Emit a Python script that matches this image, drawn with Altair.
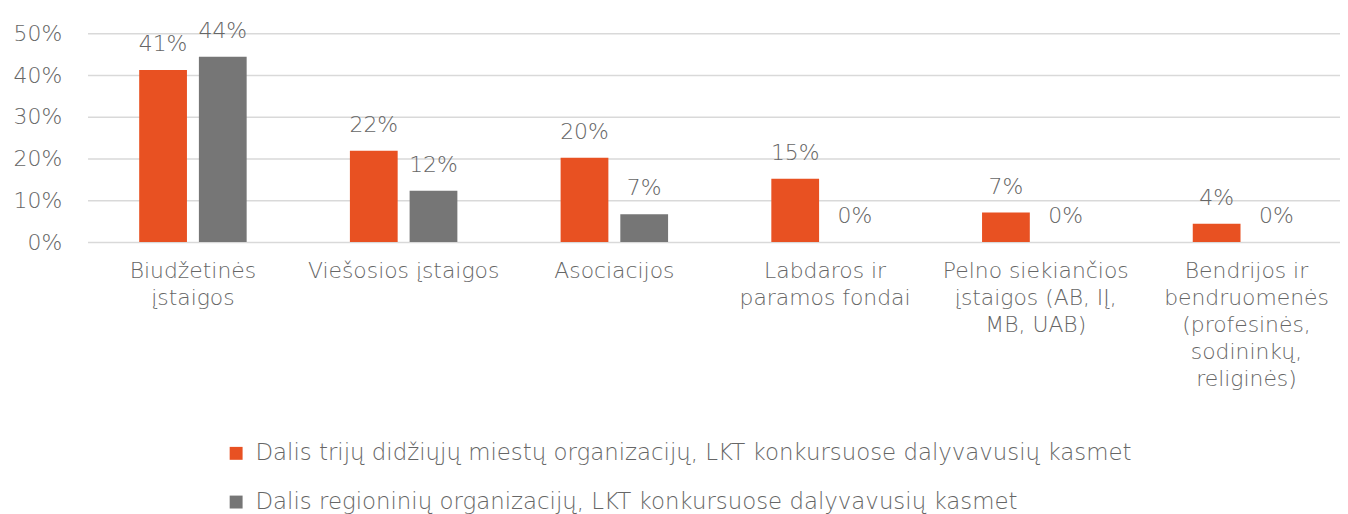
import altair as alt
import pandas as pd

categories = [
    "Biudžetinės\nįstaigos",
    "Viešosios įstaigos",
    "Asociacijos",
    "Labdaros ir\nparamos fondai",
    "Pelno siekiančios\nįstaigos (AB, IĮ,\nMB, UAB)",
    "Bendrijos ir\nbendruomenės\n(profesinės,\nsodininkų,\nreliginės)",
]
series = [
    "Dalis trijų didžiųjų miestų organizacijų, LKT konkursuose dalyvavusių kasmet",
    "Dalis regioninių organizacijų, LKT konkursuose dalyvavusių kasmet",
]
big_cities = [41.2, 21.9, 20.2, 15.2, 7.1, 4.4]
regional = [44.4, 12.3, 6.7, 0.0, 0.0, 0.0]
colors = ["#E85122", "#767676"]

rows = []
for i, c in enumerate(categories):
    rows.append({"category": c, "series": series[0], "value": big_cities[i] / 100})
    rows.append({"category": c, "series": series[1], "value": regional[i] / 100})
df = pd.DataFrame(rows)

FONT = "DejaVu Sans"
TXT = "#666666"
FS = 22
FS_LEGEND = 23
FW = 300

x = alt.X(
    "category:N",
    sort=categories,
    title=None,
    scale=alt.Scale(paddingInner=0.49, paddingOuter=0.217, align=0.565),
    axis=alt.Axis(
        labelAngle=0,
        labelExpr="split(datum.label, '\\n')",
        labelLimit=0,
        labelPadding=19,
        labelLineHeight=27,
        ticks=False,
        domain=False,
        labelFontSize=FS,
    ),
)
xo = alt.XOffset("series:N", sort=series, scale=alt.Scale(paddingInner=0.2, paddingOuter=0))
y = alt.Y(
    "value:Q",
    title=None,
    scale=alt.Scale(domain=[0, 0.5], nice=False),
    axis=alt.Axis(
        values=[0, 0.1, 0.2, 0.3, 0.4, 0.5],
        format=".0%",
        domain=False,
        ticks=False,
        tickSize=0,
        labelPadding=26,
        labelFontSize=FS,
        gridColor="#D9D9D9",
        gridWidth=1.5,
    ),
)

base = alt.Chart(df)
bars = base.mark_bar().encode(
    x=x,
    xOffset=xo,
    y=y,
    color=alt.Color(
        "series:N",
        sort=series,
        scale=alt.Scale(domain=series, range=colors),
        legend=alt.Legend(
            title=None,
            orient="none",
            legendX=138,
            legendY=411,
            direction="vertical",
            symbolType="square",
            symbolSize=169,
            symbolStrokeWidth=0,
            labelFontSize=FS_LEGEND,
            labelOffset=8,
            rowPadding=25,
            labelLimit=0,
            padding=0,
        ),
    ),
)
labels = base.mark_text(
    dy=-19, baseline="alphabetic", fontSize=FS, color=TXT, font=FONT, fontWeight=FW
).encode(
    x=x,
    xOffset=xo,
    y=y,
    text=alt.Text("value:Q", format=".0%"),
)

chart = (
    alt.layer(bars, labels)
    .properties(
        width=1260,
        height=210,
        autosize=alt.AutoSizeParams(type="none"),
        padding={"left": 80, "top": 24, "right": 0, "bottom": 272},
    )
    .configure_view(stroke=None)
    .configure_axis(labelFont=FONT, labelColor=TXT, labelFontWeight=FW)
    .configure_legend(labelFont=FONT, labelColor=TXT, labelFontWeight=FW)
)

chart.save("out.html", embed_options={"renderer": "svg", "actions": False})
